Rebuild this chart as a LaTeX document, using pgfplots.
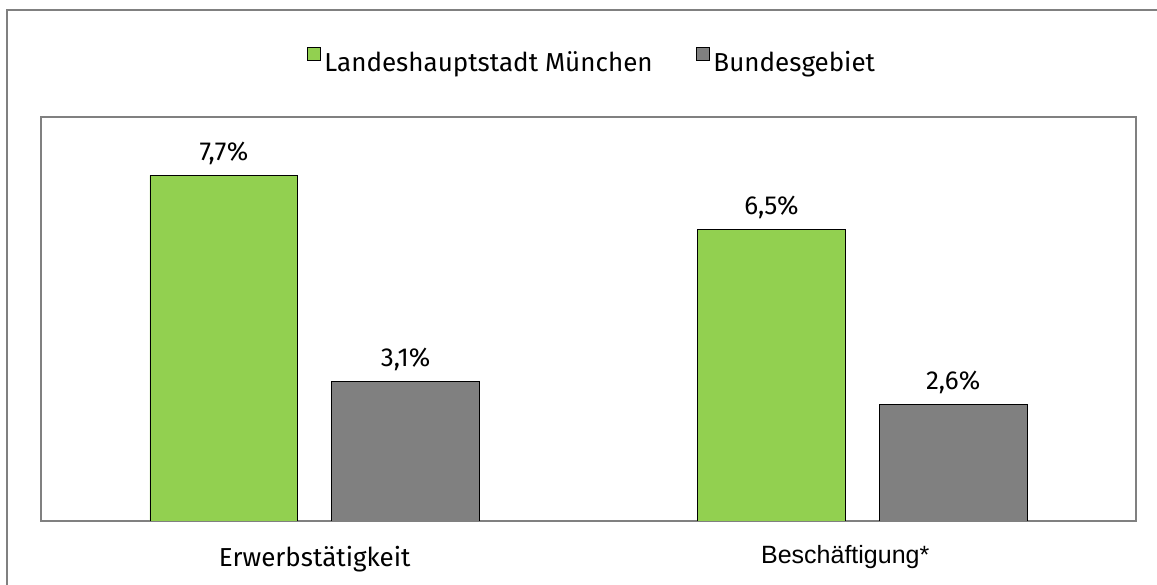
\documentclass[border=0pt]{standalone}
\usepackage{fontspec}
\setmainfont{Fira Sans}
\newfontfamily\arialfont{Liberation Sans}
\usepackage{pgfplots}
\pgfplotsset{compat=1.18}
\definecolor{mgreen}{HTML}{92D050}
\definecolor{mgray}{HTML}{808080}
\begin{document}
\begin{tikzpicture}[font=\fontsize{13}{15}\selectfont]
\useasboundingbox (0,0) rectangle (578.5pt,292pt);
\draw[mgray, line width=1pt] (3.25pt,-5pt) rectangle (585pt,287pt);
\begin{axis}[
  at={(20.5pt,31.5pt)}, anchor=south west,
  scale only axis, width=547.5pt, height=202pt,
  xmin=-0.5, xmax=1.5, ymin=0, ymax=9,
  ybar, bar width=0.27,
  xtick={0,1},
  xticklabels={Erwerbstätigkeit, {\arialfont\fontsize{12.5}{15}\selectfont\hspace*{-17pt}\raisebox{1.5pt}{Beschäftigung*}}},
  ytick=\empty, major tick length=0pt, xtick style={draw=none},
  axis line style={mgray, line width=0.85pt},
  xticklabel style={anchor=base, yshift=-23pt, inner sep=0pt},
  nodes near coords, point meta=explicit symbolic,
  every node near coord/.append style={anchor=base, yshift=7.5pt, inner sep=0pt, text=black},
  legend style={at={(0.504,1.134)}, anchor=center, draw=none, fill=none,
    legend columns=2, /tikz/every even column/.append style={column sep=19.5pt},
    font=\fontsize{13}{15}\selectfont},
  legend image code/.code={\draw[#1] (0pt,1.5pt) rectangle (6.5pt,8pt);},
]
\addplot[fill=mgreen, draw=black, line width=0.4pt, bar shift=-0.166]
  coordinates {(0,7.7) [7,7\%] (1,6.5) [6,5\%]};
\addplot[fill=mgray, draw=black, line width=0.4pt, bar shift=0.166]
  coordinates {(0,3.1) [3,1\%] (1,2.6) [2,6\%]};
\legend{Landeshauptstadt München, Bundesgebiet}
\end{axis}
\end{tikzpicture}
\end{document}
